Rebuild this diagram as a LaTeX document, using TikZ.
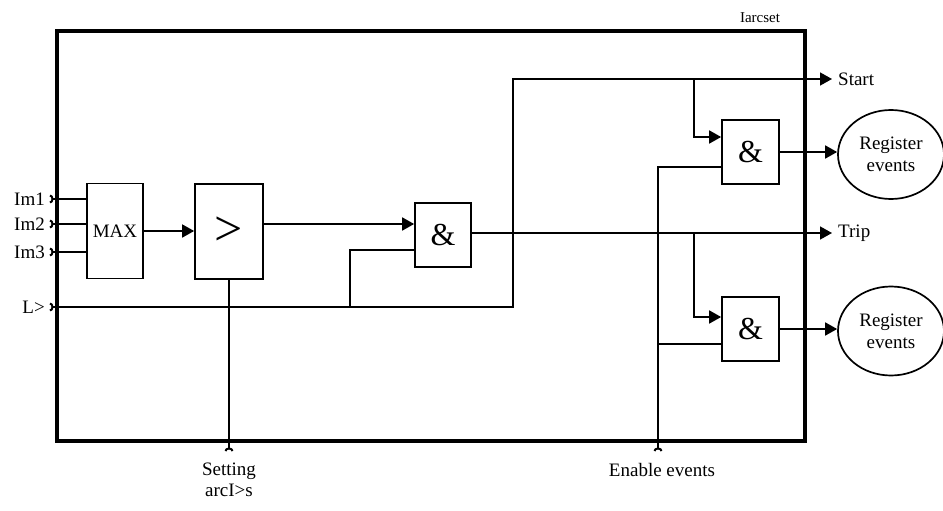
\documentclass[tikz,border=0pt]{standalone}
\usepackage{fontspec}
\setmainfont{Liberation Serif}
\usetikzlibrary{arrows.meta,shapes.geometric}
\begin{document}
\begin{tikzpicture}[x=1pt,y=-1pt,font=\fontsize{19}{22}\selectfont,line join=miter,
	wire/.style={line width=1.7pt},
	arr/.style={wire,-{Triangle[length=12pt,width=13pt]}},
	inp/.style={wire,{Arc Barb[reversed,length=3.5pt,width=9pt,line width=2pt]}-},
	gate/.style={draw,line width=1.7pt,inner sep=0pt},
	reg/.style={draw,ellipse,line width=1.7pt,minimum width=106pt,minimum height=89pt,align=center,inner sep=0pt}]
	\useasboundingbox (0,0) rectangle (943,511);
	% frame of the function block
	\draw[line width=3.6pt] (57,31) rectangle (805,441);
	\node[font=\fontsize{15}{18}\selectfont] (title) at (760,18) {Iarcset};
	% blocks
	\node[gate,minimum width=56pt,minimum height=95pt] (max) at (115,231) {MAX};
	\node[gate,minimum width=68pt,minimum height=95pt] (cmp) at (229,231.5) {\fontsize{50}{50}\selectfont >};
	\node[gate,minimum width=56pt,minimum height=64pt,font=\fontsize{32}{32}\selectfont] (and1) at (443,235) {\&};
	\node[gate,minimum width=57pt,minimum height=64pt,font=\fontsize{32}{32}\selectfont] (and2) at (750.5,152) {\&};
	\node[gate,minimum width=57pt,minimum height=64pt,font=\fontsize{32}{32}\selectfont] (and3) at (750.5,329) {\&};
	\node[reg] (reg1) at (891,154.5) {Register\\events};
	\node[reg] (reg2) at (891,331) {Register\\events};
	% inputs
	\coordinate (im1) at (50,199);
	\coordinate (im2) at (50,224);
	\coordinate (im3) at (50,252);
	\coordinate (lin) at (50,307);
	\foreach \n/\t in {im1/Im1,im2/Im2,im3/Im3,lin/L>}
		\node[anchor=east,inner sep=0pt] (\n-l) at ([xshift=-5pt]\n) {\t};
	\foreach \n in {im1,im2,im3}
		\draw[inp] (\n) -- (\n -| max.west);
	\draw[arr] (max.east) -- (max.east -| cmp.west);
	\draw[arr] (cmp.east |- 0,224) -- (and1.west |- 0,224);
	\coordinate (lj) at (350,307);
	\draw[inp] (lin) -- (lj) |- (and1.west |- 0,250);
	% outputs
	\coordinate (sbend) at (513,79);
	\coordinate (sout) at (832,79);
	\coordinate (tout) at (832,233);
	\node[anchor=west,inner sep=0pt] (start) at ([xshift=6pt]sout) {Start};
	\node[anchor=west,inner sep=0pt] (trip) at ([xshift=6pt]tout) {Trip};
	\draw[arr] (lj) -| (sbend) -- (sout);
	\draw[arr] (and1.east |- tout) -- (tout);
	% event gates
	\coordinate (tapS) at (694,79);
	\coordinate (tapT) at (694,233);
	\draw[arr] (tapS) |- (and2.west |- 0,137);
	\draw[arr] (tapT) |- (and3.west |- 0,317);
	\coordinate (en) at (658,451);
	\draw[inp] (en) |- (and3.west |- 0,344);
	\draw[wire] (en |- 0,344) |- (and2.west |- 0,167);
	\draw[arr] (and2.east) -- (and2.east -| reg1.west);
	\draw[arr] (and3.east) -- (and3.east -| reg2.west);
	% setting
	\coordinate (set) at (cmp.south |- 0,451);
	\draw[inp] (set) -- (cmp.south);
	\node[anchor=north,inner sep=0pt,align=center,font=\fontsize{19}{21}\selectfont] (setl) at ([yshift=-12pt]set) {Setting\\arcI>s};
	\node[anchor=north,inner sep=0pt] (enl) at ([xshift=4pt,yshift=-12pt]en) {Enable events};
\end{tikzpicture}
\end{document}
